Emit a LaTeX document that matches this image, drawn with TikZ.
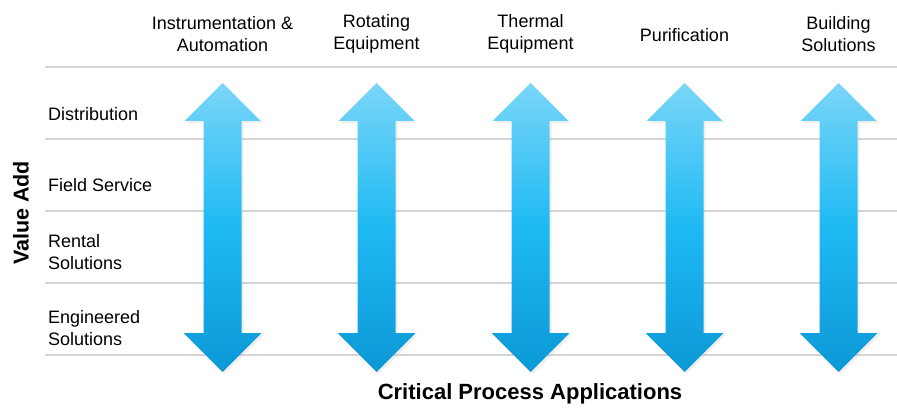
\documentclass[tikz,border=0pt]{standalone}
\usepackage{fontspec}
\setmainfont{Liberation Sans}
\usetikzlibrary{shadings}
\definecolor{arrtop}{HTML}{7AD6F8}
\definecolor{arrmid}{HTML}{1EB9F3}
\definecolor{arrbot}{HTML}{0C98D6}
\definecolor{rule}{HTML}{D4D4D4}
\tikzset{
  hdr/.style={align=center, font=\fontsize{18}{22}\selectfont, inner sep=0pt},
  rowlbl/.style={align=left, anchor=west, font=\fontsize{18}{22}\selectfont, inner sep=0pt},
  gridline/.style={draw=rule, line width=1.2pt},
  dblarrow/.style={top color=arrtop, bottom color=arrbot, middle color=arrmid, draw=none}
}
\newcommand{\vArrow}[1]{%
  \fill[black!25, opacity=0.25, xshift=2pt, yshift=-2pt] (#1-19,121) -- (#1-38,121) -- (#1,83) -- (#1+38,121) -- (#1+19,121) -- (#1+19,333) -- (#1+39,333) -- (#1,372) -- (#1-39,333) -- (#1-19,333) -- cycle;
  \shade[dblarrow] (#1-19,121) -- (#1-38,121) -- (#1,83) -- (#1+38,121) -- (#1+19,121) -- (#1+19,333) -- (#1+39,333) -- (#1,372) -- (#1-39,333) -- (#1-19,333) -- cycle;
}
\begin{document}
\begin{tikzpicture}[x=1pt,y=-1pt]
\useasboundingbox (0,0) rectangle (897,409);
% grid lines
\foreach \yy in {67,139,211,283,355} {\draw[gridline] (45,\yy) -- (897,\yy);}
% arrows
\foreach \cx in {222.5,376.5,530.5,684.5,838.5} {\vArrow{\cx}}
% headers
\node[hdr] (h1) at (222.5,34) {Instrumentation \&\\Automation};
\node[hdr] (h2) at (376.5,34) {Rotating\\Equipment};
\node[hdr] (h3) at (530.5,34) {Thermal\\Equipment};
\node[hdr] (h4) at (684.5,35) {Purification};
\node[hdr] (h5) at (838.5,34) {Building\\Solutions};
% row labels
\node[rowlbl] (r1) at (48,114) {Distribution};
\node[rowlbl] (r2) at (48,185) {Field Service};
\node[rowlbl] (r3) at (48,252) {Rental\\Solutions};
\node[rowlbl] (r4) at (48,328) {Engineered\\Solutions};
% axis labels
\node[font=\bfseries\fontsize{21.5}{24}\selectfont, rotate=90, inner sep=0pt] (va) at (21,213) {Value Add};
\node[font=\bfseries\fontsize{22}{26}\selectfont, inner sep=0pt] (cpa) at (530,394) {Critical Process Applications};
\end{tikzpicture}
\end{document}
